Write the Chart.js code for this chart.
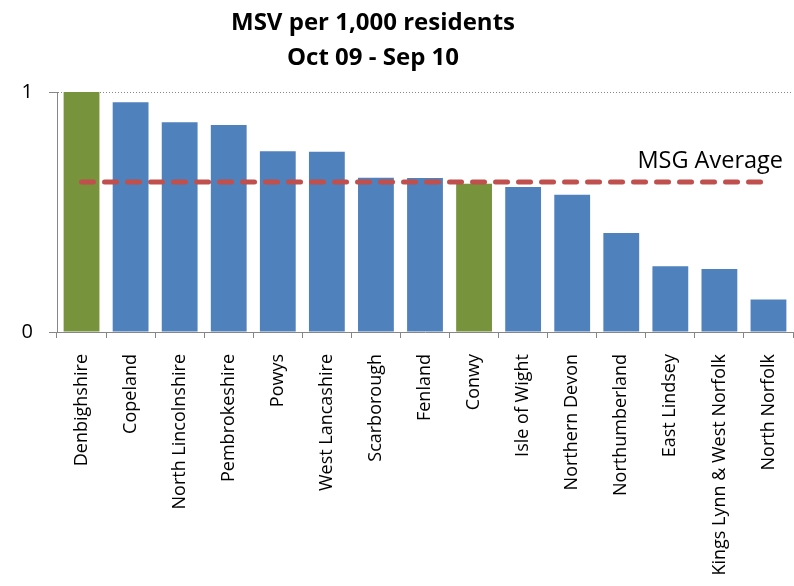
<!DOCTYPE html>
<html>
<head>
<meta charset="utf-8">
<script src="https://cdn.jsdelivr.net/npm/chart.js@4"></script>
<style>
  html, body { margin: 0; padding: 0; background: #fff; }
  #wrap { width: 794px; height: 586px; position: relative; }
</style>
</head>
<body>
<div id="wrap"><canvas id="c" width="794" height="586"></canvas></div>
<script>
const titleLines = ["MSV per 1,000 residents", "Oct 09 - Sep 10"];
const categories = ["Denbighshire", "Copeland", "North Lincolnshire", "Pembrokeshire", "Powys",
  "West Lancashire", "Scarborough", "Fenland", "Conwy", "Isle of Wight", "Northern Devon",
  "Northumberland", "East Lindsey", "Kings Lynn & West Norfolk", "North Norfolk"];
const msvValues = [1.0, 0.957, 0.874, 0.862, 0.753, 0.751, 0.643, 0.642, 0.618, 0.604, 0.572,
  0.412, 0.274, 0.263, 0.135];
const highlighted = ["Denbighshire", "Conwy"];
const msgAverage = 0.625;
const averageLabel = "MSG Average";
const yTicks = [0, 1];

const BLUE = "#4F81BD", GREEN = "#77933C", RED = "#C0504D", AXIS = "#868686";
const FONT = "'Open Sans', 'DejaVu Sans', sans-serif";

const textPlugin = {
  id: "textPlugin",
  afterDraw(chart) {
    const ctx = chart.ctx;
    ctx.save();
    ctx.fillStyle = "#000";
    ctx.textAlign = "center";
    ctx.textBaseline = "alphabetic";
    ctx.font = "bold 24px " + FONT;
    ctx.fillText(titleLines[0], 373, 30);
    ctx.fillText(titleLines[1], 373, 65);
    const y = chart.scales.y.getPixelForValue(msgAverage);
    ctx.font = "23.5px " + FONT;
    ctx.textAlign = "right";
    ctx.fillText(averageLabel, 783, y - 14);
    ctx.restore();
  }
};

new Chart(document.getElementById("c"), {
  data: {
    labels: categories,
    datasets: [
      {
        type: "line",
        label: averageLabel,
        data: categories.map(() => msgAverage),
        borderColor: RED,
        borderWidth: 5,
        borderDash: [12, 11],
        borderCapStyle: "round",
        pointRadius: 0,
        fill: false
      },
      {
        type: "bar",
        label: "MSV per 1,000 residents",
        data: msvValues,
        backgroundColor: categories.map(c => highlighted.includes(c) ? GREEN : BLUE),
        borderWidth: 0,
        categoryPercentage: 1,
        barPercentage: 0.73
      }
    ]
  },
  options: {
    responsive: false,
    animation: false,
    layout: { padding: { top: 92, right: 1, left: 0, bottom: 0 } },
    plugins: { legend: { display: false }, tooltip: { enabled: false }, title: { display: false } },
    scales: {
      x: {
        offset: true,
        grid: { offset: true, drawOnChartArea: false, drawTicks: true, tickLength: 6, tickColor: AXIS },
        border: { display: true, color: AXIS, width: 1 },
        ticks: { autoSkip: false, minRotation: 90, maxRotation: 90, padding: 16,
                 color: "#000", font: { family: FONT, size: 18 } },
        afterFit(scale) {
          scale.height = 254;
          scale.paddingLeft = 0; scale.paddingRight = 0;
        }
      },
      y: {
        min: 0, max: 1,
        afterBuildTicks(scale) { scale.ticks = yTicks.map(v => ({ value: v })); },
        grid: {
          color: ctx => ctx.tick && ctx.tick.value === 1 ? AXIS : "rgba(0,0,0,0)",
          lineWidth: 1, drawTicks: true, tickLength: 8, tickColor: AXIS
        },
        border: { display: true, color: AXIS, width: 1, dash: [1, 2] },
        ticks: { padding: 16, color: "#000", font: { family: FONT, size: 20 } },
        afterFit(scale) { scale.width = 57; }
      }
    }
  },
  plugins: [textPlugin]
});
</script>
</body>
</html>
